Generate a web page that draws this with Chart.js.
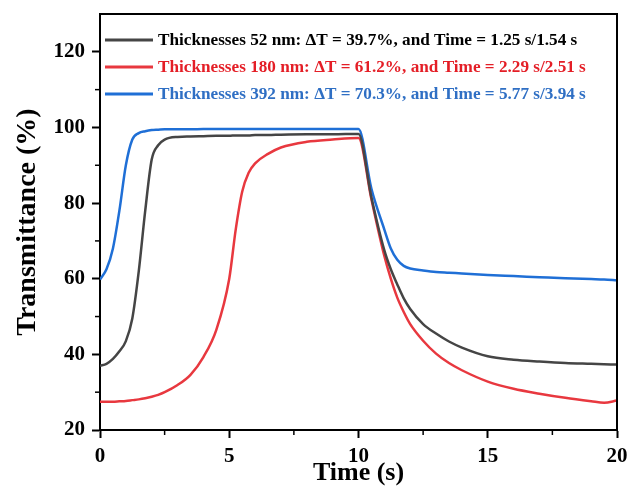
<!DOCTYPE html>
<html>
<head>
<meta charset="utf-8">
<script src="https://cdn.jsdelivr.net/npm/chart.js@4.4.1/dist/chart.umd.min.js"></script>
<style>
  html, body { margin: 0; padding: 0; background: #fff; }
</style>
</head>
<body>
<canvas id="chart" width="630" height="495"></canvas>
<script>
// time points (s)
const times = [0, 0.25, 0.5, 0.75, 1, 1.25, 1.5, 1.75, 2, 2.25, 2.5, 3, 3.5, 4, 4.5, 5,
  5.25, 5.5, 5.75, 6, 6.5, 7, 8, 9, 10, 10.5, 11, 11.25, 11.5, 11.75, 12, 12.5, 13, 13.5, 14,
  15, 16, 17, 18, 19, 19.5, 20];

// transmittance (%) for each film thickness
const t52 = [37, 37.5, 38.8, 40.8, 43.5, 49.5, 62, 78, 91.5, 95.3, 96.8, 97.5, 97.6, 97.7, 97.8, 97.8,
  97.9, 97.9, 97.9, 98, 98, 98.1, 98.2, 98.2, 98.3, 81.5, 67.5, 62.5, 58.5, 54.8, 52, 48, 45.5, 43.4, 41.8,
  39.5, 38.6, 38.1, 37.7, 37.5, 37.4, 37.3];
const t180 = [27.5, 27.5, 27.5, 27.6, 27.7, 27.9, 28.1, 28.4, 28.8, 29.3, 30, 31.9, 34.6, 39.3, 46.5, 60,
  73, 83, 88, 90.5, 93, 94.7, 96.2, 96.8, 97.2, 81, 66, 60, 55, 51.2, 48, 43.6, 40.2, 37.7, 35.8,
  32.8, 30.9, 29.6, 28.5, 27.6, 27.2, 27.8];
const t392 = [59.8, 62.5, 68, 78, 90, 96.8, 98.5, 99, 99.3, 99.4, 99.5, 99.5, 99.5, 99.6, 99.6, 99.6,
  99.6, 99.6, 99.6, 99.6, 99.6, 99.6, 99.6, 99.6, 99.6, 83.8, 73, 68, 65, 63.4, 62.7, 62.2, 61.8, 61.6, 61.4,
  61, 60.7, 60.4, 60.1, 59.9, 59.8, 59.6];

const seriesLabels = [
  'Thicknesses 52 nm: \u0394T = 39.7%, and Time = 1.25 s/1.54 s',
  'Thicknesses 180 nm: \u0394T = 61.2%, and Time = 2.29 s/2.51 s',
  'Thicknesses 392 nm: \u0394T = 70.3%, and Time = 5.77 s/3.94 s'
];
const lineColors = ['#454545', '#e8383f', '#1f6fd6'];
const textColors = ['#000000', '#e41e26', '#2f6fc4'];

const xTicks = [0, 5, 10, 15, 20];
const xMinor = [2.5, 7.5, 12.5, 17.5];
const yTicks = [20, 40, 60, 80, 100, 120];
const yMinor = [30, 50, 70, 90, 110];

const serif = "'Liberation Serif', 'Times New Roman', serif";

function toPoints(ys) {
  return times.map((t, i) => ({ x: t, y: ys[i] }));
}

// frame on top/right, minor ticks, and the in-plot legend
const framePlugin = {
  id: 'frame',
  afterDraw(chart) {
    const { ctx, chartArea: a, scales } = chart;
    ctx.save();
    ctx.strokeStyle = '#000';
    ctx.lineWidth = 2;
    ctx.beginPath();
    ctx.moveTo(a.left, a.top);
    ctx.lineTo(a.right, a.top);
    ctx.lineTo(a.right, a.bottom);
    ctx.stroke();

    ctx.lineWidth = 1.5;
    xMinor.forEach(v => {
      const px = scales.x.getPixelForValue(v);
      ctx.beginPath();
      ctx.moveTo(px, a.bottom);
      ctx.lineTo(px, a.bottom + 5);
      ctx.stroke();
    });
    yMinor.forEach(v => {
      const py = scales.y.getPixelForValue(v);
      ctx.beginPath();
      ctx.moveTo(a.left, py);
      ctx.lineTo(a.left - 5, py);
      ctx.stroke();
    });

    // legend
    ctx.font = 'bold 17.2px ' + serif;
    ctx.textBaseline = 'middle';
    chart.data.datasets.forEach((ds, i) => {
      const y = 40 + i * 27;
      ctx.strokeStyle = ds.borderColor;
      ctx.lineWidth = 3;
      ctx.beginPath();
      ctx.moveTo(105, y);
      ctx.lineTo(153, y);
      ctx.stroke();
      ctx.fillStyle = textColors[i];
      ctx.fillText(ds.label, 158, y + 1);
    });
    ctx.restore();
  }
};

new Chart(document.getElementById('chart'), {
  type: 'line',
  data: {
    datasets: seriesLabels.map((label, i) => ({
      label: label,
      data: toPoints([t52, t180, t392][i]),
      borderColor: lineColors[i],
      borderWidth: 2.5,
      pointRadius: 0,
      cubicInterpolationMode: 'monotone',
      fill: false
    }))
  },
  options: {
    responsive: false,
    animation: false,
    devicePixelRatio: 1,
    layout: { padding: { left: 0, top: 14, right: 13, bottom: 0 } },
    plugins: {
      legend: { display: false },
      tooltip: { enabled: false }
    },
    scales: {
      x: {
        type: 'linear',
        min: 0,
        max: 20,
        afterBuildTicks: s => { s.ticks = xTicks.map(v => ({ value: v })); },
        afterFit: s => { s.height = 65; s.paddingLeft = 0; s.paddingRight = 0; },
        grid: { drawOnChartArea: false, tickLength: 8, tickColor: '#000', tickWidth: 2 },
        border: { color: '#000', width: 2 },
        ticks: { color: '#000', padding: 6, maxRotation: 0, font: { family: serif, size: 21, weight: 'bold' } },
        title: { display: true, text: 'Time (s)', color: '#000', padding: { top: 0, bottom: 6 },
          font: { family: serif, size: 26, weight: 'bold' } }
      },
      y: {
        min: 20,
        max: 130,
        afterBuildTicks: s => { s.ticks = yTicks.map(v => ({ value: v })); },
        afterFit: s => { s.width = 100; s.paddingTop = 0; s.paddingBottom = 0; },
        grid: { drawOnChartArea: false, tickLength: 8, tickColor: '#000', tickWidth: 2 },
        border: { color: '#000', width: 2 },
        ticks: { color: '#000', padding: 7, font: { family: serif, size: 21, weight: 'bold' } },
        title: { display: true, text: 'Transmittance (%)', color: '#000', padding: { top: 11, bottom: 0 },
          font: { family: serif, size: 28, weight: 'bold' } }
      }
    }
  },
  plugins: [framePlugin]
});
</script>
</body>
</html>
